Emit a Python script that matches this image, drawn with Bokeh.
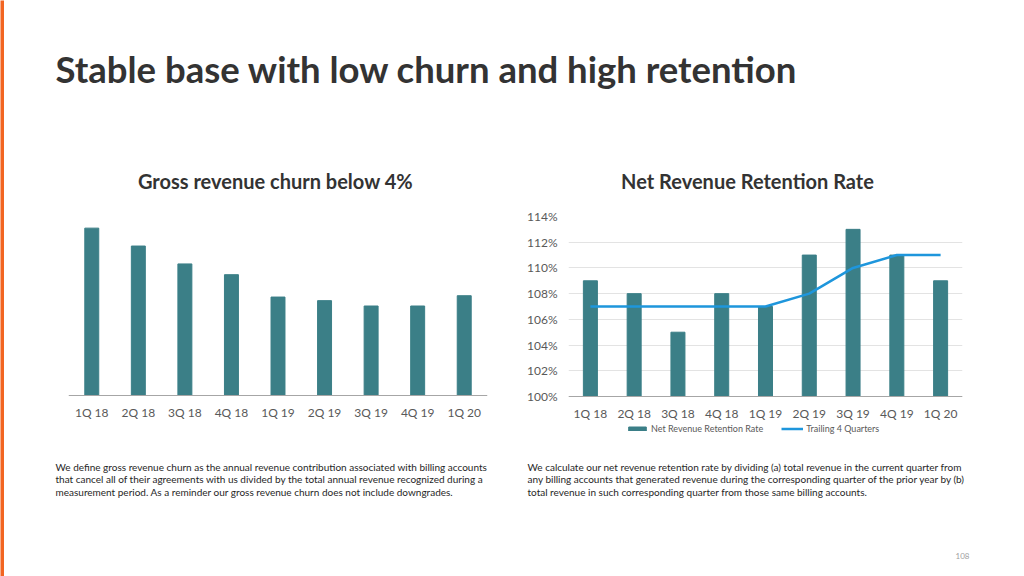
from bokeh.plotting import figure
from bokeh.models import Range1d, FactorRange, Label, Legend, LegendItem, FixedTicker
from bokeh.layouts import column, row
from bokeh.embed import file_html
from bokeh.resources import INLINE

# ---- data ----
quarters = ["1Q 18", "2Q 18", "3Q 18", "4Q 18", "1Q 19", "2Q 19", "3Q 19", "4Q 19", "1Q 20"]
churn = [3.74, 3.34, 2.94, 2.70, 2.20, 2.12, 2.00, 2.00, 2.23]
nrr = [109, 108, 105, 108, 107, 111, 113, 111, 109]
trailing = [107, 107, 107, 107, 107, 108, 110, 111, 111]
nrr_ticks = [100, 102, 104, 106, 108, 110, 112, 114]
nrr_tick_labels = ["100%", "102%", "104%", "106%", "108%", "110%", "112%", "114%"]

title = "Stable base with low churn and high retention"
left_title = "Gross revenue churn below 4%"
right_title = "Net Revenue Retention Rate"
left_note = [
    "We define gross revenue churn as the annual revenue contribution associated with billing accounts",
    "that cancel all of their agreements with us divided by the total annual revenue recognized during a",
    "measurement period. As a reminder our gross revenue churn does not include downgrades.",
]
right_note = [
    "We calculate our net revenue retention rate by dividing (a) total revenue in the current quarter from",
    "any billing accounts that generated revenue during the corresponding quarter of the prior year by (b)",
    "total revenue in such corresponding quarter from those same billing accounts.",
]

FONT = "Lato"
TEAL = "#3b7f87"
BLUE = "#1e96dc"
ORANGE = "#f26522"
GRAY = "#595959"

# frame geometry (pixels) for the two charts
FRAME_TOP = 16
FRAME_H = 225          # frame spans 216..441 on the page
AXIS_PX = 180          # distance from baseline to top of frame (both charts)
BELOW_PX = FRAME_H - AXIS_PX - 0


def blank(w, h, xr, yr):
    f = figure(width=w, height=h, x_range=xr, y_range=yr, output_backend="svg",
               toolbar_location=None, x_axis_location=None, y_axis_location=None,
               min_border=0, outline_line_color=None)
    f.xgrid.visible = False
    f.ygrid.visible = False
    return f


# orange strip
strip = blank(4, 576, Range1d(0, 1), Range1d(0, 1))
strip.background_fill_color = ORANGE
strip.border_fill_color = ORANGE

# header
header = blank(1020, 200, Range1d(4, 1024), Range1d(200, 0))
header.add_layout(Label(x=55, y=68, text=title, text_font=FONT, text_font_style="bold",
                        text_font_size="36.5px", text_color="#333333", text_baseline="middle"))
header.add_layout(Label(x=275, y=180, text=left_title, text_font=FONT, text_font_style="bold",
                        text_font_size="20px", text_color="#333333", text_baseline="middle",
                        text_align="center"))
header.add_layout(Label(x=747, y=180, text=right_title, text_font=FONT, text_font_style="bold",
                        text_font_size="20px", text_color="#333333", text_baseline="middle",
                        text_align="center"))

# left chart: baseline 0 at page y 395, top of frame at 216 -> 4.0
l_top = 4.0
l_ppu = 179 / l_top
l_bottom = -(441 - 395) / l_ppu
left = figure(width=508, height=245, x_range=FactorRange(factors=quarters),
              y_range=Range1d(l_bottom, l_top),
              output_backend="svg", toolbar_location=None, y_axis_location=None,
              min_border_left=64, min_border_right=25, min_border_top=16, min_border_bottom=4,
              outline_line_color=None)
left.vbar(x=quarters, top=churn, width=0.3, color=TEAL)
left.xgrid.visible = False
left.ygrid.visible = False
left.xaxis.fixed_location = 0

# right chart: 100 at page y 396, 114 at 216
r_ppu = 180 / 14
r_bottom = 100 - (441 - 396) / r_ppu
right = figure(width=512, height=245, x_range=FactorRange(factors=quarters),
               y_range=Range1d(r_bottom, 114),
               output_backend="svg", toolbar_location=None,
               min_border_left=56, min_border_right=62, min_border_top=16, min_border_bottom=4,
               outline_line_color=None)
bars = right.vbar(x=quarters, top=nrr, bottom=100, width=0.32, color=TEAL)
ln = right.line(x=quarters, y=trailing, line_width=2.5, line_color=BLUE)
right.xgrid.visible = False
right.ygrid.ticker = FixedTicker(ticks=nrr_ticks)
right.ygrid.grid_line_color = "#e3e3e3"
right.yaxis.ticker = FixedTicker(ticks=nrr_ticks)
right.yaxis.major_label_overrides = {t: l for t, l in zip(nrr_ticks, nrr_tick_labels)}
right.yaxis.axis_line_color = None
right.xaxis.fixed_location = 100

for f in (left, right):
    for ax in f.axis:
        ax.major_tick_line_color = None
        ax.minor_tick_line_color = None
        ax.major_label_text_font = FONT
        ax.major_label_text_font_size = "12px"
        ax.major_label_text_color = GRAY
    f.xaxis.major_label_standoff = 3
    f.xaxis.axis_line_color = "#a6a6a6"
    f.xaxis.axis_line_width = 1
right.yaxis.major_label_standoff = 5

legend = Legend(items=[LegendItem(label="Net Revenue Retention Rate", renderers=[bars]),
                       LegendItem(label="Trailing 4 Quarters", renderers=[ln])],
                orientation="horizontal", location=(58, 7),
                background_fill_alpha=0, border_line_color=None,
                label_text_font=FONT, label_text_font_size="9px", label_text_color=GRAY,
                glyph_width=22, glyph_height=5, label_height=10, label_standoff=3,
                spacing=18, padding=0, margin=0)
right.add_layout(legend)

# footer
footer = blank(1020, 131, Range1d(4, 1024), Range1d(576, 445))
ys = [466, 478.5, 491]
for i, t in enumerate(left_note):
    footer.add_layout(Label(x=55, y=ys[i], text=t, text_font=FONT, text_font_size="10px",
                            text_color="#262626", text_baseline="middle"))
for i, t in enumerate(right_note):
    footer.add_layout(Label(x=527, y=ys[i], text=t, text_font=FONT, text_font_size="10px",
                            text_color="#262626", text_baseline="middle"))
footer.add_layout(Label(x=955, y=555, text="108", text_font=FONT, text_font_size="8px",
                        text_color="#a0a0a0", text_baseline="middle"))

layout = row(strip, column(header, row(left, right, spacing=0), footer, spacing=0), spacing=0)

open("out.html", "w").write(file_html(layout, INLINE))
